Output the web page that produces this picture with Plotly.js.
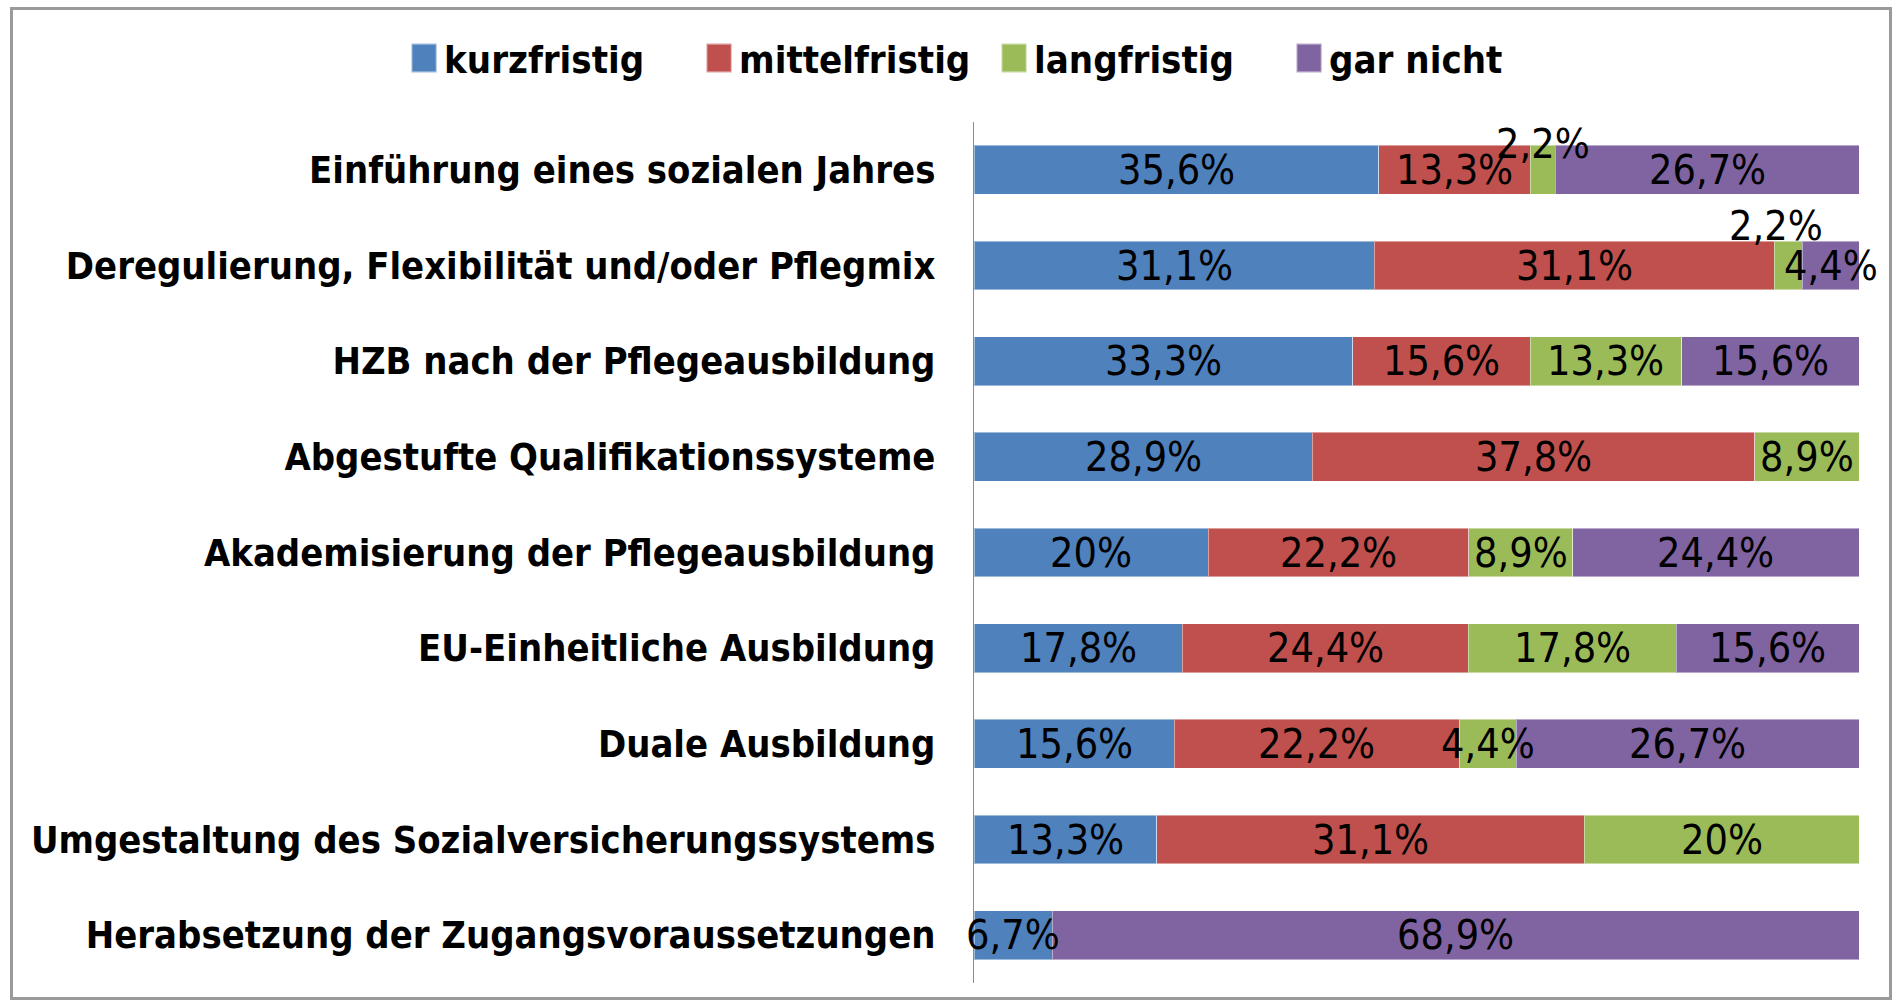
<!DOCTYPE html>
<html>
<head>
<meta charset="utf-8">
<script src="https://cdn.plot.ly/plotly-3.0.1.min.js"></script>
<style>
  html, body { margin: 0; padding: 0; background: #fff; }
  #chart { position: absolute; left: 0; top: 0; width: 1901px; height: 1006px; }
  #frame { position: absolute; left: 10px; top: 7px; width: 1876px; height: 987px;
           border: 3px solid #9a9a9a; pointer-events: none; }
</style>
</head>
<body>
<div id="chart"></div>
<div id="frame"></div>
<script>
const categories = [
  "Einführung eines sozialen Jahres",
  "Deregulierung, Flexibilität und/oder Pflegmix",
  "HZB nach der Pflegeausbildung",
  "Abgestufte Qualifikationssysteme",
  "Akademisierung der Pflegeausbildung",
  "EU-Einheitliche Ausbildung",
  "Duale Ausbildung",
  "Umgestaltung des Sozialversicherungssystems",
  "Herabsetzung der Zugangsvoraussetzungen"
];
const seriesNames = ["kurzfristig", "mittelfristig", "langfristig", "gar nicht"];
const kurzfristig   = [35.6, 31.1, 33.3, 28.9, 20.0, 17.8, 15.6, 13.3, 6.7];
const mittelfristig = [13.3, 31.1, 15.6, 37.8, 22.2, 24.4, 22.2, 31.1, null];
const langfristig   = [2.2, 2.2, 13.3, 8.9, 8.9, 17.8, 4.4, 20.0, null];
const garNicht      = [26.7, 4.4, 15.6, null, 24.4, 15.6, 26.7, null, 68.9];
const colors = ["#4F81BD", "#C0504D", "#9BBB59", "#8064A2"];

// labels placed above their bar in the original: [series, category, yshift, xshift]
const liftedLabels = [[2, 0, 26, 0], [2, 1, 40, -12]];

const series = [kurzfristig, mittelfristig, langfristig, garNicht];
const fmt = v => String(v).replace(".", ",") + "%";

const labelFont = "DejaVu Sans Condensed, Liberation Sans Narrow, sans-serif";

const traces = series.map((vals, si) => ({
  type: "bar",
  orientation: "h",
  name: seriesNames[si],
  y: categories,
  x: vals,
  marker: { color: colors[si], line: { color: "rgba(255,255,255,0.45)", width: 1 } },
  hoverinfo: "skip"
}));

// value labels, centred on each normalised segment, drawn above all bars
const annotations = [];
categories.forEach((cat, ci) => {
  const total = series.reduce((s, arr) => s + (arr[ci] || 0), 0);
  let before = 0;
  series.forEach((arr, si) => {
    const v = arr[ci];
    if (v === null || v === undefined) return;
    const center = (before + v / 2) / total * 100;
    before += v;
    const lift = liftedLabels.find(l => l[0] === si && l[1] === ci);
    annotations.push({
      x: center, y: cat, xref: "x", yref: "y",
      text: fmt(v), showarrow: false,
      yshift: lift ? lift[2] : 0, xshift: lift ? lift[3] : 0,
      font: { family: labelFont, size: 41, color: "#000" }
    });
  });
});

const layout = {
  width: 1901, height: 1006,
  margin: { l: 974, r: 42, t: 122, b: 23, pad: 0, autoexpand: false },
  paper_bgcolor: "#fff", plot_bgcolor: "#fff",
  barmode: "stack",
  barnorm: "percent",
  bargap: 0.49,
  showlegend: true,
  legend: {
    orientation: "h",
    x: -0.644, xanchor: "left",
    y: 1.074, yanchor: "middle",
    font: { family: labelFont, size: 38, color: "#000", weight: "bold" },
    traceorder: "normal",
    entrywidth: 250, entrywidthmode: "pixels"
  },
  xaxis: { range: [0, 100], visible: false, fixedrange: true },
  yaxis: {
    autorange: "reversed",
    showline: true, linecolor: "#8c8c8c", linewidth: 1,
    ticks: "", showgrid: false, zeroline: false,
    ticklabelstandoff: 30,
    tickfont: { family: labelFont, size: 37.8, color: "#000", weight: "bold" }
  },
  annotations: annotations
};

Plotly.newPlot("chart", traces, layout, { displayModeBar: false, staticPlot: true }).then(gd => {
  // enlarge legend swatches to match the big squares of the original
  gd.querySelectorAll(".legend .legendpoints path").forEach(p => {
    const t = p.getAttribute("transform") || "";
    p.setAttribute("transform", t + " scale(2.1,2.4)");
  });
});
</script>
</body>
</html>
